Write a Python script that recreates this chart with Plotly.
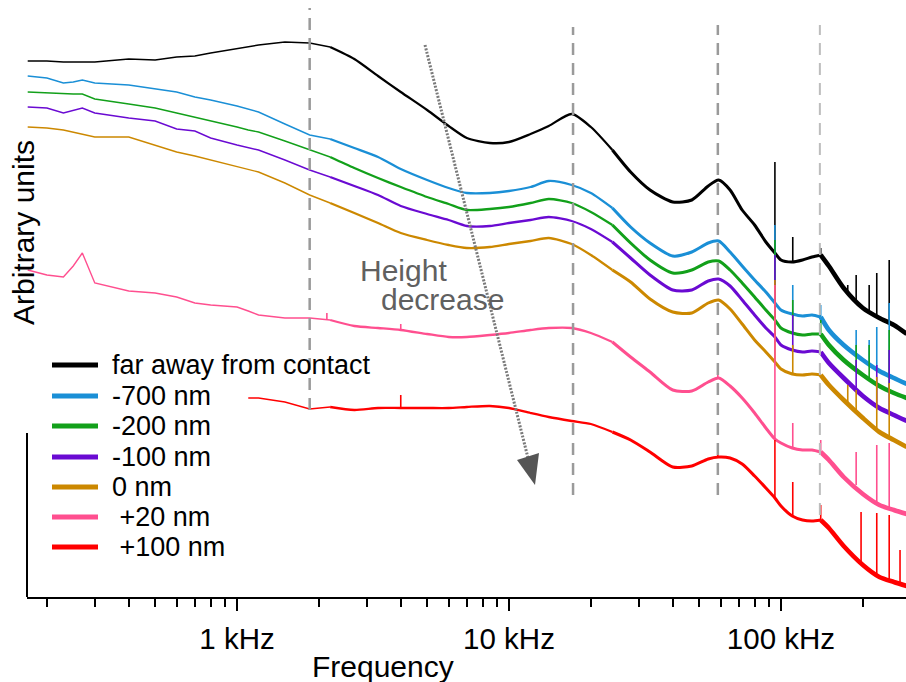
import math
import plotly.graph_objects as go

# ---------------- data (y in arbitrary units) ----------------
FREQ_HZ = [170, 200, 230, 250, 270, 300, 400, 500, 600, 700, 800, 1000, 1100, 1200, 1500,
           1850, 2200, 2700, 3300, 4000, 5000, 6000, 7000, 8500, 10000, 12000, 14000, 17000,
           20000, 24000, 28000, 33000, 40000, 47000, 54000, 59000, 65000, 72000, 80000, 88000,
           95000, 100000, 110000, 120000, 130000, 140000, 150000, 170000, 200000, 230000,
           260000, 290000]

FAR_AWAY = [536, 536, 535, 535, 535, 535, 538, 537, 540, 541, 544, 548, 550, 552, 555, 554, 550,
            538, 521, 505, 487, 471, 459, 454, 455, 463, 471, 483, 470, 447, 425, 407, 395, 397,
            411, 417, 407, 387, 372, 355, 344, 337, 335, 337, 340, 342, 331, 309, 289, 279, 272, 263]
NM_M700 = [521, 519, 514, 515, 517, 514, 512, 508, 505, 500, 497, 491, 488, 485, 473, 462, 458,
           449, 440, 428, 417, 409, 404, 404, 406, 410, 416, 412, 404, 389, 370, 354, 341, 345,
           354, 356, 345, 331, 317, 305, 294, 287, 283, 281, 282, 280, 267, 252, 237, 226, 219, 213]
NM_M200 = [505, 504, 503, 503, 503, 498, 493, 489, 484, 480, 476, 470, 467, 465, 456, 447, 440,
           429, 419, 410, 400, 393, 387, 388, 390, 394, 398, 394, 385, 372, 354, 337, 324, 327,
           335, 336, 327, 314, 300, 287, 277, 269, 264, 262, 263, 263, 252, 237, 222, 211, 204, 199]
NM_M100 = [490, 489, 484, 487, 489, 484, 479, 476, 468, 466, 459, 452, 449, 447, 437, 427, 420,
           411, 402, 391, 383, 377, 371, 371, 374, 377, 380, 376, 368, 355, 339, 322, 307, 307,
           316, 318, 311, 297, 282, 269, 260, 252, 247, 245, 246, 245, 234, 219, 201, 189, 182, 176]
NM_0 = [470, 469, 467, 465, 463, 460, 460, 452, 445, 441, 437, 430, 427, 425, 414, 402, 394,
        384, 374, 364, 357, 352, 349, 350, 353, 356, 359, 353, 342, 327, 315, 298, 285, 284,
        294, 297, 288, 273, 257, 245, 235, 228, 223, 222, 223, 222, 212, 197, 179, 165, 157, 150]
NM_P20 = [327, 322, 320, 331, 344, 314, 306, 304, 300, 294, 292, 290, 286, 282, 279, 279, 277,
          271, 269, 267, 263, 260, 260, 262, 264, 267, 269, 269, 264, 255, 240, 225, 207, 206,
          215, 219, 211, 199, 184, 169, 158, 154, 149, 147, 147, 145, 137, 120, 103, 92, 87, 83]
NM_P100 = [None] * 12 + [199, 199, 195, 188, 190, 187, 189, 189, 189, 189, 190, 191, 189, 184,
                         180, 176, 173, 165, 157, 145, 130, 131, 138, 140, 139, 133, 121, 109,
                         99, 91, 81, 77, 76, 77, 69, 51, 32, 20, 15, 11]

# narrow spectral spikes: (frequency Hz, curve level, spike top)
SPIKES_FAR = [(95000, 344, 435), (110500, 335, 360), (140000, 342, 349), (176000, 302, 312),
              (189000, 297, 322), (211000, 287, 312), (225000, 281, 324), (250000, 275, 337)]
SPIKES_M700 = [(95000, 294, 372), (110500, 283, 312), (140000, 280, 292), (189000, 245, 267),
               (211000, 232, 257), (225000, 229, 270), (250000, 222, 294)]
SPIKES_M200 = [(95000, 277, 357), (110500, 264, 297), (140000, 263, 277), (189000, 229, 252),
               (211000, 217, 252), (250000, 207, 267)]
SPIKES_M100 = [(95000, 260, 342), (110500, 247, 282), (189000, 209, 237), (225000, 192, 232),
               (250000, 185, 247)]
SPIKES_0 = [(95000, 235, 317), (110500, 223, 252), (176000, 194, 212), (189000, 187, 207),
            (225000, 167, 220), (250000, 160, 214)]
SPIKES_P20 = [(2140, 277, 284), (4000, 267, 273), (58600, 219, 229), (95000, 158, 312),
              (110500, 149, 174), (140000, 145, 157), (189000, 112, 145), (225000, 94, 152),
              (250000, 89, 154)]
SPIKES_P100 = [(4000, 189, 202), (58600, 140, 150), (95000, 99, 157), (110500, 81, 115),
               (140000, 77, 92), (197000, 34, 85), (225000, 21, 84), (250000, 17, 82),
               (274000, 13, 47)]

SERIES_NAMES = ["far away from contact", "-700 nm", "-200 nm", "-100 nm", "0 nm",
                " +20 nm", " +100 nm"]
SERIES_VALUES = [FAR_AWAY, NM_M700, NM_M200, NM_M100, NM_0, NM_P20, NM_P100]
SERIES_SPIKES = [SPIKES_FAR, SPIKES_M700, SPIKES_M200, SPIKES_M100, SPIKES_0, SPIKES_P20,
                 SPIKES_P100]
SERIES_COLORS = ["#000000", "#1a8fd6", "#12a01a", "#6a0ad2", "#cc8800", "#ff4f8f", "#ff0000"]

# resonance markers (dashed vertical lines)
RESONANCE_HZ = [1850, 17200, 58600, 139000]
RESONANCE_TOP = [589, 570, 572, 572]
RESONANCE_BOTTOM = [187, 102, 102, 82]
RESONANCE_COLORS = ["#9a9a9a", "#9a9a9a", "#9a9a9a", "#bdbdbd"]

X_TICK_VALS = [1000, 10000, 100000]
X_TICK_TEXT = ["1 kHz", "10 kHz", "100 kHz"]
X_MINOR_VALS = [m * d for d in (100, 1000, 10000, 100000) for m in range(2, 10)]

# ---------------- styling ----------------
FONT = "Arial, Liberation Sans, sans-serif"
W, H = 906, 682
ML, MR, MT, MB = 27, 0, 0, 85
PW, PH = W - ML - MR, H - MT - MB
WIDTH_BREAKS_HZ = [2500, 25000, 150000]
WIDTHS = [1.4, 2.3, 3.0, 4.6]


def px(xp):
    return (xp - ML) / PW


def py(yp):
    return (MT + PH - yp) / PH


fig = go.Figure()

bounds = [0] + WIDTH_BREAKS_HZ + [float("inf")]
for name, vals, spikes, color in zip(SERIES_NAMES, SERIES_VALUES, SERIES_SPIKES, SERIES_COLORS):
    for k, w in enumerate(WIDTHS):
        lo, hi = bounds[k], bounds[k + 1]
        idx = [i for i, f in enumerate(FREQ_HZ) if lo <= f < hi]
        if not idx:
            continue
        if idx[0] > 0:
            idx = [idx[0] - 1] + idx
        fig.add_trace(go.Scatter(x=[FREQ_HZ[i] for i in idx], y=[vals[i] for i in idx],
                                 mode="lines", name=name, showlegend=False,
                                 line=dict(color=color, width=w,
                                           shape="linear" if k == 0 else "spline",
                                           smoothing=0.7)))
    sx, sy = [], []
    for f, base, top in spikes:
        sx += [f, f, None]
        sy += [base, top, None]
    fig.add_trace(go.Scatter(x=sx, y=sy, mode="lines", showlegend=False, hoverinfo="skip",
                             line=dict(color=color, width=1.6)))

# dashed resonance lines (drawn over the spectra)
for f, top, bot, c in zip(RESONANCE_HZ, RESONANCE_TOP, RESONANCE_BOTTOM, RESONANCE_COLORS):
    fig.add_trace(go.Scatter(x=[f, f], y=[bot, top], mode="lines", showlegend=False,
                             hoverinfo="skip",
                             line=dict(color=c, width=2.5 if c == "#9a9a9a" else 2,
                                       dash="12px,8px")))

shapes = []
annotations = []

# partial left axis line
shapes.append(dict(type="line", xref="paper", yref="paper", x0=0, x1=0, y0=0, y1=py(433),
                   line=dict(color="black", width=2)))

# "Height decrease" dotted arrow
shapes.append(dict(type="line", xref="paper", yref="paper", x0=px(425), y0=py(45),
                   x1=px(528), y1=py(458), line=dict(color="#7a7a7a", width=3, dash="2px,1.5px")))
shapes.append(dict(type="path", xref="paper", yref="paper",
                   path=f"M{px(535)},{py(485)} L{px(517)},{py(460)} L{px(539)},{py(453)} Z",
                   fillcolor="#555555", line=dict(width=0)))
annotations.append(dict(xref="paper", yref="paper", x=px(358), y=py(270), xanchor="left",
                        yanchor="middle", text="Height", showarrow=False,
                        font=dict(family=FONT, size=30, color="#606060")))
annotations.append(dict(xref="paper", yref="paper", x=px(379), y=py(299), xanchor="left",
                        yanchor="middle", text="decrease", showarrow=False,
                        font=dict(family=FONT, size=30, color="#606060")))

# manual legend
LEG_ROWS = [365, 396, 426, 457, 487, 517, 547]
for name, color, yr in zip(SERIES_NAMES, SERIES_COLORS, LEG_ROWS):
    shapes.append(dict(type="line", xref="paper", yref="paper", x0=px(52), x1=px(98),
                       y0=py(yr), y1=py(yr), line=dict(color=color, width=5)))
    annotations.append(dict(xref="paper", yref="paper", x=px(110), y=py(yr), xanchor="left",
                            yanchor="middle", text=name, showarrow=False,
                            font=dict(family=FONT, size=27, color="black")))

# axis titles
annotations.append(dict(xref="paper", yref="paper", x=px(383), y=py(666), xanchor="center",
                        yanchor="middle", text="Frequency", showarrow=False,
                        font=dict(family=FONT, size=30, color="black")))
annotations.append(dict(xref="paper", yref="paper", x=px(23), y=py(233), xanchor="center",
                        yanchor="middle", text="Arbitrary units", showarrow=False,
                        textangle=-90, font=dict(family=FONT, size=30, color="black")))

fig.update_layout(
    width=W, height=H, margin=dict(l=ML, r=MR, t=MT, b=MB),
    paper_bgcolor="white", plot_bgcolor="white", showlegend=False,
    font=dict(family=FONT, size=28, color="black"),
    shapes=shapes, annotations=annotations,
    xaxis=dict(type="log", range=[math.log10(169), math.log10(288200)],
               tickvals=X_TICK_VALS, ticktext=X_TICK_TEXT, ticks="outside", ticklen=12,
               tickwidth=2, tickcolor="black", showline=True, linewidth=2, linecolor="black",
               showgrid=False, zeroline=False, tickfont=dict(family=FONT, size=29.5),
               ticklabelstandoff=3,
               minor=dict(tickvals=X_MINOR_VALS, ticks="outside", ticklen=8, tickwidth=2,
                          tickcolor="black", showgrid=False)),
    yaxis=dict(range=[0, 597], visible=False, showgrid=False, zeroline=False),
)

fig.write_html("out.html")
